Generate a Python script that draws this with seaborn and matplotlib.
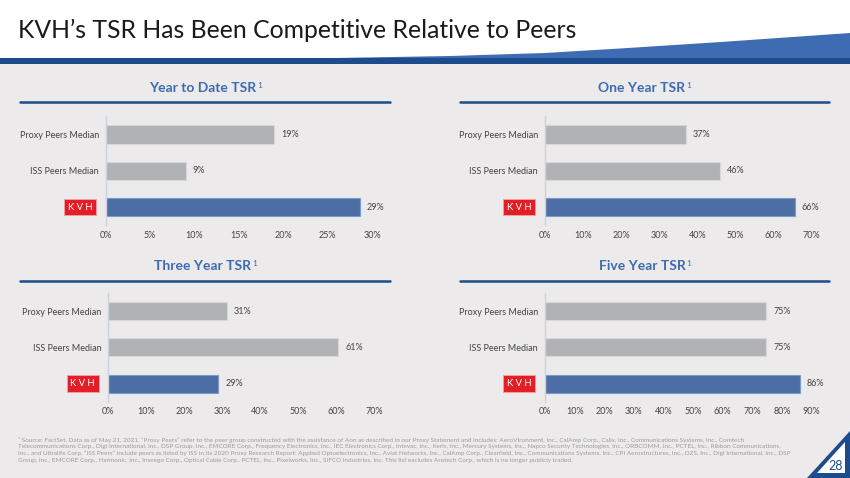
import matplotlib
matplotlib.use("Agg")
import matplotlib.pyplot as plt
from matplotlib.patches import Polygon, Rectangle
from matplotlib.lines import Line2D
import seaborn as sns
import pandas as pd

# Chart data
categories = ["Proxy Peers Median", "ISS Peers Median", "KVH"]
panel_titles = ["Year to Date TSR", "One Year TSR", "Three Year TSR", "Five Year TSR"]
ytd_tsr = [19.0, 9.0, 28.6]
one_year_tsr = [37.0, 46.0, 65.6]
three_year_tsr = [31.3, 60.6, 29.0]
five_year_tsr = [74.7, 74.7, 85.9]
x_max = [30, 70, 70, 90]
x_step = [5, 10, 10, 10]

footnote = (
    "\u00b9 Source: FactSet. Data as of May 21, 2021. \u201cProxy Peers\u201d refer to the peer group constructed with the assistance of Aon as described in our Proxy Statement and includes: AeroVironment, Inc., CalAmp Corp., Calix, Inc., Communications Systems, Inc., Comtech\n"
    "Telecommunications Corp., Digi International, Inc., DSP Group, Inc., EMCORE Corp., Frequency Electronics, Inc., IEC Electronics Corp., Intevac, Inc., Iteris, Inc., Mercury Systems, Inc., Napco Security Technologies, Inc., ORBCOMM, Inc., PCTEL, Inc., Ribbon Communications,\n"
    "Inc., and Ultralife Corp. \u201cISS Peers\u201d include peers as listed by ISS in its 2020 Proxy Research Report: Applied Optoelectronics, Inc., Aviat Networks, Inc., CalAmp Corp., Clearfield, Inc., Communications Systems, Inc., CPI Aerostructures, Inc., DZS, Inc., Digi International, Inc., DSP\n"
    "Group, Inc., EMCORE Corp., Harmonic, Inc., Inseego Corp., Optical Cable Corp., PCTEL, Inc., Pixelworks, Inc., SIFCO Industries, Inc. This list excludes Arotech Corp., which is no longer publicly traded."
)

BG = "#ECEAEB"
GREY = "#B1B2B4"
BLUE = "#3D6BB3"
NAVY = "#1C4C8C"
RED = "#E31E26"
TXT = "#444444"

sns.set_style("white")
plt.rcParams["font.family"] = ["Lato", "DejaVu Sans"]

W, H = 850, 478
fig = plt.figure(figsize=(8.5, 4.78), dpi=100, facecolor=BG)


def px_rect(x0, y0, x1, y1):
    return [x0 / W, 1 - y1 / H, (x1 - x0) / W, (y1 - y0) / H]


def pts(xy):
    return [(x / W, 1 - y / H) for x, y in xy]


# Header: white band, blue swoosh and navy rule
fig.patches.append(Rectangle((0, 1 - 58 / H), 1, 58 / H, transform=fig.transFigure,
                             facecolor="white", edgecolor="none", zorder=0))
fig.patches.append(Polygon(pts([(335, 58), (450, 56), (545, 53), (620, 48.5), (721, 42),
                                (850, 33), (850, 58)]),
                           closed=True, transform=fig.transFigure,
                           facecolor="#3E6CB3", edgecolor="none", zorder=1))
fig.patches.append(Rectangle((0, 1 - 64 / H), 1, 6 / H, transform=fig.transFigure,
                             facecolor=NAVY, edgecolor="none", zorder=1))
fig.text(18 / W, 1 - 30 / H, "KVH\u2019s TSR Has Been Competitive Relative to Peers",
         fontsize=17.8, color="#1A1A1A", va="center", ha="left")

# Panel frames (x range of axis, y range of axis) in pixels
axes_px = [
    (105.7, 116.3, 372.0, 225.3),
    (545.0, 116.3, 811.7, 225.3),
    (108.3, 292.9, 374.0, 401.9),
    (545.0, 292.9, 811.7, 401.9),
]
title_px = [(205, 88, 20, 390, 101.5), (644, 88, 460, 829, 101.5),
            (205, 266.5, 20, 390, 280.5), (644, 266.5, 460, 829, 280.5)]

all_values = [ytd_tsr, one_year_tsr, three_year_tsr, five_year_tsr]
renderer = fig.canvas.get_renderer()

for i, values in enumerate(all_values):
    x0, y0, x1, y1 = axes_px[i]
    ax = fig.add_axes(px_rect(x0, y0, x1, y1))
    ax.set_facecolor("none")
    df = pd.DataFrame({"group": categories, "tsr": values})
    sns.barplot(data=df, x="tsr", y="group", hue="group", palette=[GREY, GREY, BLUE],
                orient="h", width=0.5, legend=False, ax=ax,
                edgecolor="#D8D8DA", linewidth=0.8)
    for patch in ax.patches[2:]:
        patch.set_edgecolor("#7A9AD0")
    for cont, v in zip(ax.containers, values):
        ax.bar_label(cont, labels=[f"{v:.0f}%"], padding=5, fontsize=6.5, color=TXT)

    ax.set_xlim(0, x_max[i])
    ax.set_ylim(2.5, -0.5)
    ticks = list(range(0, x_max[i] + 1, x_step[i]))
    ax.set_xticks(ticks)
    ax.set_xticklabels([f"{t}%" for t in ticks], fontsize=6.5, color=TXT)
    ax.set_yticks([0, 1, 2])
    ax.set_yticklabels(categories[:2] + [""], fontsize=6.5, color=TXT)
    ax.tick_params(axis="both", length=0)
    ax.tick_params(axis="x", pad=4)
    ax.tick_params(axis="y", pad=5)
    ax.set_xlabel("")
    ax.set_ylabel("")
    for s in ["top", "right", "bottom"]:
        ax.spines[s].set_visible(False)
    ax.spines["left"].set_color("#CBD2E0")
    ax.spines["left"].set_linewidth(1.0)

    # KVH logo as the third category label
    ax.annotate("K V H", xy=(0, 2), xycoords=("axes fraction", "data"),
                xytext=(-18.5, 0), textcoords="offset points", ha="center", va="center",
                fontsize=6.8, color="white", fontweight="normal",
                bbox=dict(boxstyle="square,pad=0.4", facecolor=RED, edgecolor="#F2A0A3", linewidth=0.6))

    # Panel title with superscript and underline
    cx, cy, lx0, lx1, ly = title_px[i]
    t = fig.text((cx - 2) / W, 1 - cy / H, panel_titles[i], fontsize=10, fontweight="bold",
                 color=BLUE, ha="center", va="center")
    bb = t.get_window_extent(renderer)
    fig.text((bb.x1 + 1) / W, bb.y1 / H + 0.5 / H, "1", fontsize=6, color=BLUE,
             ha="left", va="top")
    fig.add_artist(Line2D([lx0 / W, lx1 / W], [1 - ly / H, 1 - ly / H], transform=fig.transFigure,
                          color=NAVY, linewidth=1.8))

# Footnote
fig.text(18 / W, 1 - 437 / H, footnote, fontsize=4.6, color="#9C9C9C", ha="left", va="top",
         linespacing=1.36)

# Page number triangle
fig.patches.append(Polygon(pts([(807, 478), (850, 431), (850, 478)]), closed=True,
                           transform=fig.transFigure, facecolor=NAVY, edgecolor="none"))
fig.patches.append(Polygon(pts([(817, 473), (845, 442), (845, 473)]), closed=True,
                           transform=fig.transFigure, facecolor="white", edgecolor="none"))
fig.text(836 / W, 1 - 466 / H, "28", fontsize=9, color=NAVY, ha="center", va="center")

fig.savefig("out.png", dpi=100, facecolor=BG)
